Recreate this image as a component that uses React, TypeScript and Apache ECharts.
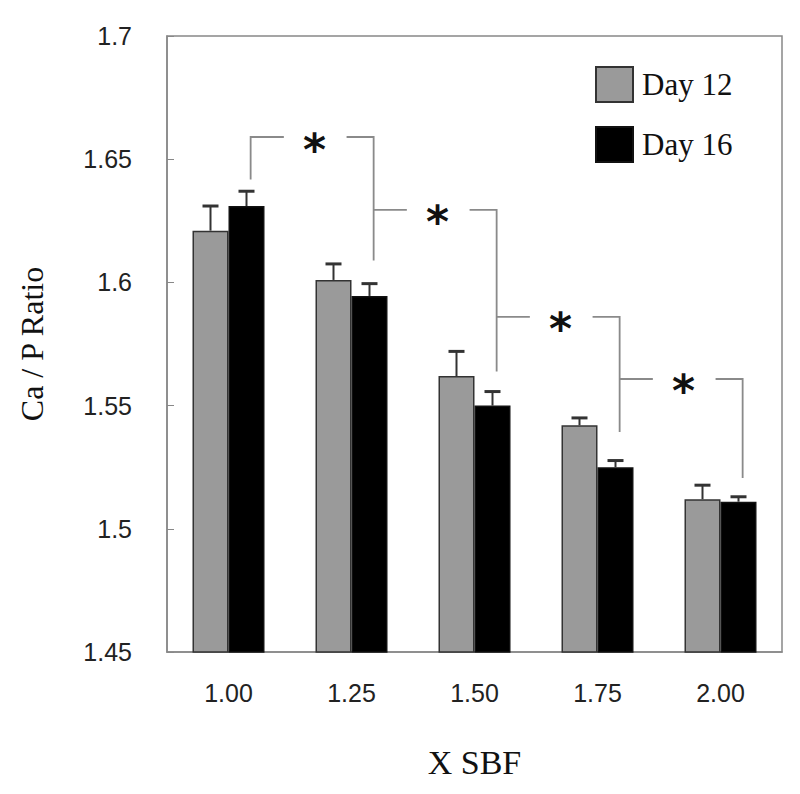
import React, { useEffect, useRef } from "react";
import * as echarts from "echarts";

const categories = ["1.00", "1.25", "1.50", "1.75", "2.00"];
const day12 = [1.621, 1.601, 1.562, 1.542, 1.512];
const day12Err = [0.01, 0.0065, 0.01, 0.003, 0.0057];
const day16 = [1.631, 1.5945, 1.55, 1.525, 1.511];
const day16Err = [0.006, 0.005, 0.0057, 0.0027, 0.002];
// bracket: [left category index, top value, left leg bottom value, right leg bottom value]
const brackets = [
  [0, 1.659, 1.6418, 1.6089],
  [1, 1.6294, 1.6294, 1.5638],
  [2, 1.586, 1.586, 1.5393],
  [3, 1.5608, 1.5608, 1.5206],
];
const yTicks = { min: 1.45, max: 1.7, interval: 0.05 };

const SERIF = "'Liberation Serif', 'Times New Roman', serif";
const SANS = "'Liberation Sans', Arial, sans-serif";

export default function App() {
  const ref = useRef<HTMLDivElement>(null);
  useEffect(() => {
    if (!ref.current) return;
    const chart = echarts.init(ref.current, null, { renderer: "svg" });
    const BAR_W = 36;

    const errSeries = (name: string, vals: number[], errs: number[], side: number) => ({
      type: "custom",
      name,
      z: 5,
      data: vals.map((v, i) => [i, v, errs[i]]),
      encode: { x: 0, y: 1 },
      renderItem: (params: any, api: any) => {
        const i = api.value(0);
        const v = api.value(1);
        const e = api.value(2);
        const base = api.coord([i, v]);
        const top = api.coord([i, v + e]);
        const x = base[0] + (side * BAR_W) / 2;
        return {
          type: "group",
          children: [
            {
              type: "line",
              shape: { x1: x, y1: base[1], x2: x, y2: top[1] },
              style: { stroke: "#333", lineWidth: 2 },
            },
            {
              type: "line",
              shape: { x1: x - 8, y1: top[1], x2: x + 8, y2: top[1] },
              style: { stroke: "#333", lineWidth: 3 },
            },
          ],
        };
      },
    });

    const option: any = {
      animation: false,
      backgroundColor: "#fff",
      grid: {
        left: 167,
        right: 18,
        top: 36,
        bottom: 142,
        show: true,
        borderColor: "#888",
        borderWidth: 1.5,
        containLabel: false,
      },
      legend: {
        data: ["Day 12", "Day 16"],
        orient: "vertical",
        left: 595,
        top: 66,
        padding: 0,
        itemWidth: 37,
        itemHeight: 35,
        itemGap: 23,
        icon: "rect",
        textStyle: { fontFamily: SERIF, fontSize: 31, color: "#111", padding: [0, 0, 0, 4] },
      },
      xAxis: {
        type: "category",
        data: categories,
        name: "X SBF",
        nameLocation: "middle",
        nameGap: 93,
        nameTextStyle: { fontFamily: SERIF, fontSize: 34, color: "#111" },
        axisLine: { lineStyle: { color: "#888", width: 1.5 } },
        axisTick: { show: false },
        axisLabel: { fontFamily: SANS, fontSize: 25, color: "#222", margin: 28 },
      },
      yAxis: {
        type: "value",
        min: yTicks.min,
        max: yTicks.max,
        interval: yTicks.interval,
        name: "Ca / P Ratio",
        nameLocation: "middle",
        nameGap: 119,
        nameTextStyle: { fontFamily: SERIF, fontSize: 32, color: "#111" },
        axisLine: { show: true, lineStyle: { color: "#888", width: 1.5 } },
        axisTick: { show: true, inside: true, length: 7, lineStyle: { color: "#888" } },
        splitLine: { show: false },
        axisLabel: { fontFamily: SANS, fontSize: 25, color: "#222", margin: 35 },
      },
      series: [
        {
          type: "bar",
          name: "Day 12",
          data: day12,
          barWidth: BAR_W,
          barGap: "0%",
          itemStyle: { color: "#9a9a9a", borderColor: "#333", borderWidth: 1.5 },
        },
        {
          type: "bar",
          name: "Day 16",
          data: day16,
          barWidth: BAR_W,
          barGap: "0%",
          itemStyle: { color: "#000", borderColor: "#111", borderWidth: 1.5 },
        },
        errSeries("err12", day12, day12Err, -1),
        errSeries("err16", day16, day16Err, 1),
        {
          type: "custom",
          name: "sig",
          z: 6,
          data: brackets,
          encode: { x: 0, y: 1 },
          renderItem: (params: any, api: any) => {
            const i = api.value(0);
            const band = api.size([1, 0])[0];
            const top = api.coord([i, api.value(1)]);
            const lb = api.coord([i, api.value(2)])[1];
            const rb = api.coord([i, api.value(3)])[1];
            const x0 = top[0] + 0.18 * band;
            const x1 = x0 + band;
            const y = top[1];
            const ls = { stroke: "#8a8a8a", lineWidth: 1.8, fill: null };
            return {
              type: "group",
              children: [
                {
                  type: "polyline",
                  shape: { points: [[x0, lb], [x0, y], [x0 + 0.27 * band, y]] },
                  style: ls,
                },
                {
                  type: "polyline",
                  shape: { points: [[x1 - 0.22 * band, y], [x1, y], [x1, rb]] },
                  style: ls,
                },
                {
                  type: "text",
                  x: x0 + 0.52 * band,
                  y: y + 12,
                  style: {
                    text: "*",
                    fontFamily: "'DejaVu Sans', sans-serif",
                    fontWeight: "bold",
                    fontSize: 44,
                    fill: "#111",
                    textAlign: "center",
                    textVerticalAlign: "middle",
                  },
                },
              ],
            };
          },
        },
      ],
    };
    chart.setOption(option);
    return () => chart.dispose();
  }, []);
  return (
    <div
      ref={ref}
      style={{ position: "fixed", left: 0, top: 0, width: 800, height: 794, background: "#fff" }}
    />
  );
}
